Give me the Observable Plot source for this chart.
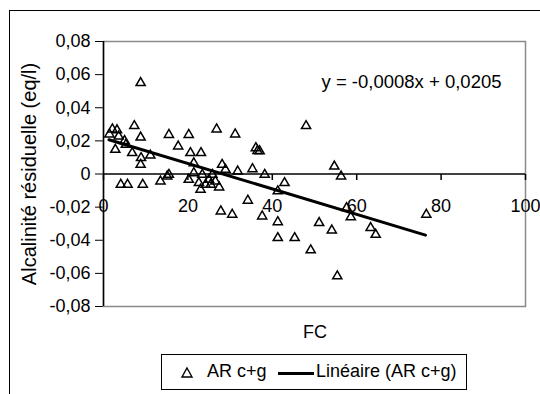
<!DOCTYPE html>
<html>
<head>
<meta charset="utf-8">
<script src="https://cdn.jsdelivr.net/npm/d3@7"></script>
<script src="https://cdn.jsdelivr.net/npm/@observablehq/plot@0.6"></script>
<style>
  html, body { margin: 0; padding: 0; background: #fff; }
  #wrap { position: relative; width: 540px; height: 394px; overflow: hidden; font-family: "Liberation Sans", Arial, sans-serif; }
  #outer { position: absolute; left: 9px; top: 10px; width: 600px; height: 500px; border: 1.5px solid #000; pointer-events: none; }
  #chart { position: absolute; left: 0; top: 0; }
  #fc { position: absolute; left: 0; width: 630px; top: 322px; text-align: center; font-size: 18px; }
  #legend { position: absolute; left: 161px; top: 354px; width: 304px; height: 34px; border: 1.5px solid #000; background: #fff; font-size: 18px; }
  #legend span { position: absolute; top: 6px; white-space: nowrap; }
</style>
</head>
<body>
<div id="wrap">
  <div id="chart"></div>
  <div id="outer"></div>
  <div id="fc">FC</div>
  <div id="legend">
    <svg style="position:absolute;left:18px;top:11px" width="14" height="14"><path d="M7,2 L12,11 L2,11 Z" fill="none" stroke="#000" stroke-width="1.4"/></svg>
    <span style="left:45px">AR c+g</span>
    <div style="position:absolute;left:116px;top:17px;width:36px;height:3px;background:#000"></div>
    <span style="left:154px">Linéaire (AR c+g)</span>
  </div>
</div>
<script>
// FC (x) and residual alkalinity (y)
const fcValues = [
  1.4, 2.1, 3.2, 3.6, 2.8, 5.0, 5.3, 6.8, 7.3, 8.8, 8.8, 8.9, 8.8, 11.1,
  4.1, 5.7, 9.3, 13.5, 15.1, 15.5,
  15.5, 17.7, 20.2, 20.6, 23.1, 21.4, 21.4, 20.2, 22.6, 23.4, 23.0, 24.2, 25.0, 25.4, 25.8,
  26.5, 26.8, 27.4, 28.1, 27.8, 28.9, 30.5, 31.2, 31.8, 34.2, 35.3, 36.1, 36.5, 37.0, 37.6, 38.2,
  41.3, 41.3, 41.3, 42.9, 45.3, 48.0, 49.1, 51.1, 54.1, 54.7, 55.4, 56.3, 57.6, 58.6, 63.3, 64.5, 76.5
];
const arValues = [
  0.024, 0.027, 0.0265, 0.0227, 0.0147, 0.020, 0.0177, 0.0127, 0.029, 0.0221, 0.055, 0.0097, 0.0056, 0.0112,
  -0.0064, -0.0064, -0.0064, -0.0044, -0.0014, -0.0004,
  0.0237, 0.0167, 0.0237, 0.0127, 0.0127, 0.0066, 0.0006, -0.0034, -0.0054, -0.0004, -0.0094, -0.0064, -0.0034, -0.0064, -0.0004,
  -0.0044, 0.027, -0.008, 0.0056, -0.0225, 0.0026, -0.0245, 0.024, 0.0016, -0.016, 0.003, 0.0157, 0.0140, 0.0138, -0.0255, -0.0004,
  -0.0104, -0.029, -0.0386, -0.0054, -0.0386, 0.029, -0.046, -0.0295, -0.034, 0.0046, -0.0617, -0.0014, -0.0205, -0.026, -0.0325, -0.0366, -0.0245
];
// linear trendline endpoints as drawn
const trendX = [1.3, 76.3];
const trendY = [0.0207, -0.0369];
const xTicks = [0, 20, 40, 60, 80, 100];
const yTicks = [0.08, 0.06, 0.04, 0.02, 0, -0.02, -0.04, -0.06, -0.08];
const equation = "y = -0,0008x + 0,0205";
const yTitle = "Alcalinité résiduelle (eq/l)";

const points = fcValues.map((x, i) => ({x, y: arValues[i]}));
const trend = trendX.map((x, i) => ({x, y: trendY[i]}));
const fmt = v => v === 0 ? "0" : d3.format(".2f")(v).replace(".", ",").replace("−", "-");

const tickDown = { draw(ctx) { ctx.moveTo(0, 0); ctx.lineTo(0, 6); } };

const chart = Plot.plot({
  width: 540,
  height: 394,
  marginLeft: 103,
  marginRight: 15,
  marginTop: 41,
  marginBottom: 88,
  style: { fontFamily: "'Liberation Sans', Arial, sans-serif", fontSize: "18px", background: "transparent", overflow: "visible", color: "#000" },
  x: { domain: [0, 100], axis: null },
  y: { domain: [-0.08, 0.08], ticks: yTicks, tickFormat: fmt, tickSize: 8, tickPadding: 5, label: null },
  marks: [
    Plot.frame({ stroke: "#8a8a8a", strokeWidth: 1.5 }),
    Plot.ruleY([0], { stroke: "#000", strokeWidth: 1.5 }),
    Plot.ruleX([0], { stroke: "#000", strokeWidth: 1.5 }),
    Plot.dot(xTicks, { x: d => d, y: 0, symbol: tickDown, stroke: "#000", strokeWidth: 1.5, fill: "none" }),
    Plot.text(xTicks, { x: d => d, y: 0, text: d => String(d), dy: 32, fontSize: 18, fill: "#000" }),
    Plot.line(trend, { x: "x", y: "y", stroke: "#000", strokeWidth: 3 }),
    Plot.dot(points, { x: "x", y: "y", symbol: "triangle", r: 3.4, stroke: "#000", strokeWidth: 1.5, fill: "none" }),
    Plot.text([equation], { frameAnchor: "top-right", textAnchor: "end", lineAnchor: "middle", dx: -24, dy: 41, fontSize: 18.5, fill: "#000" }),
    Plot.text([yTitle], { frameAnchor: "left", textAnchor: "middle", lineAnchor: "middle", rotate: -90, dx: -74, fontSize: 20, fill: "#000" })
  ]
});
document.getElementById("chart").appendChild(chart);
</script>
</body>
</html>
